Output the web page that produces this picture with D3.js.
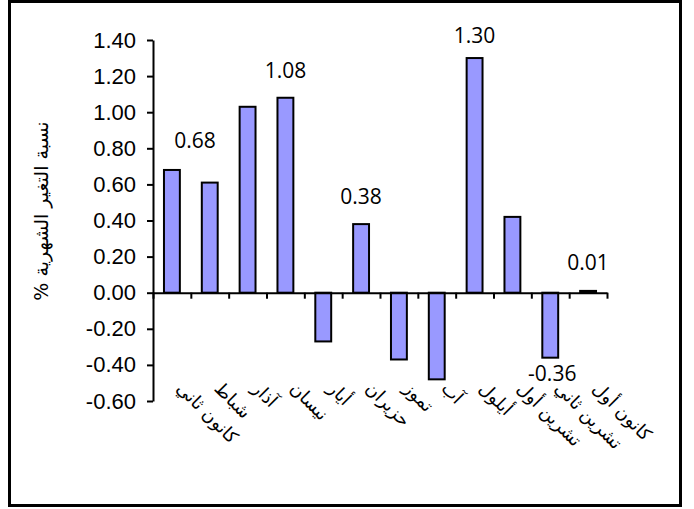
<!DOCTYPE html>
<html>
<head>
<meta charset="utf-8">
<script src="https://cdn.jsdelivr.net/npm/d3@7"></script>
<style>
  body { margin: 0; background: #fff; }
  svg { display: block; }
</style>
</head>
<body>
<div id="chart"></div>
<script>
// monthly change, percent
var months = ["كانون ثاني", "شباط", "آذار", "نيسان", "أيار", "حزيران",
              "تموز", "آب", "أيلول", "تشرين أول", "تشرين ثاني", "كانون أول"];
var changes = [0.68, 0.61, 1.03, 1.08, -0.27, 0.38, -0.37, -0.48, 1.30, 0.42, -0.36, 0.01];
var labelled = [0, 3, 5, 8, 10, 11];   // months that carry a value label
var yTicks = [-0.6, -0.4, -0.2, 0, 0.2, 0.4, 0.6, 0.8, 1.0, 1.2, 1.4];
var yTitle = "نسبة التغير الشهرية %";

var w = 694, h = 509;
// note: "top" is taken by window.top, so plot edges get their own names
var plotLeft = 153, plotRight = 607, plotTop = 40, plotBottom = 401;

// plain hyphen for negatives, like the original
var fmt = function(d) {
  return d.toFixed(2);
};

var svg = d3.select("#chart")
            .append("svg")
            .attr("width", w)
            .attr("height", h);

// chart frame
svg.append("rect")
  .attr("x", 9.5)
  .attr("y", 1.5)
  .attr("width", 671)
  .attr("height", 504)
  .attr("fill", "#fff")
  .attr("stroke", "#000")
  .attr("stroke-width", 3);

var x = d3.scaleBand()
  .domain(months)
  .range([plotLeft, plotRight])
  .paddingInner(0.58)
  .paddingOuter(0.29);

var y = d3.scaleLinear()
  .domain([-0.6, 1.4])
  .range([plotBottom, plotTop]);

// boundaries between categories, for the x ticks
var xEdge = d3.scaleLinear()
  .domain([0, months.length])
  .range([plotLeft, plotRight]);

var yAxis = d3.axisLeft(y)
  .tickValues(yTicks)
  .tickFormat(fmt)
  .tickSize(6)
  .tickSizeOuter(0);

var gy = svg.append("g")
  .attr("transform", "translate(" + plotLeft + ",0)")
  .call(yAxis);
gy.select(".domain").attr("stroke-width", 2);
gy.selectAll(".tick line").attr("stroke-width", 2);
gy.selectAll(".tick text")
  .attr("x", -17)
  .attr("font-family", "Liberation Sans, Arial, sans-serif")
  .attr("font-size", 22)
  .attr("fill", "#000");

// bars
svg.append("g")
  .selectAll("rect")
  .data(changes)
  .enter()
  .append("rect")
  .attr("x", function(d, i) {
    return x(months[i]);
  })
  .attr("y", function(d) {
    return y(Math.max(0, d));
  })
  .attr("width", x.bandwidth())
  .attr("height", function(d) {
    return Math.abs(y(d) - y(0));
  })
  .attr("fill", "#9999ff")
  .attr("stroke", "#000")
  .attr("stroke-width", 2);

var xAxis = d3.axisBottom(xEdge)
  .tickValues(d3.range(months.length + 1))
  .tickFormat("")
  .tickSize(6)
  .tickSizeOuter(0);

var gx = svg.append("g")
  .attr("transform", "translate(0," + y(0) + ")")
  .call(xAxis);
gx.select(".domain").attr("stroke-width", 2);
gx.selectAll(".tick line").attr("stroke-width", 2);

// month names, slanted, under the plot
svg.append("g")
  .selectAll("text")
  .data(months)
  .enter()
  .append("text")
  .attr("transform", function(d) {
    return "translate(" + (x(d) + x.bandwidth() / 2 + 8) + "," + 385 + ") rotate(45)";
  })
  .attr("dy", "0.35em")
  .attr("text-anchor", "start")
  .attr("font-family", "DejaVu Sans, sans-serif")
  .attr("font-size", 18)
  .attr("fill", "#000")
  .text(function(d) {
    return d;
  });

// value labels; the first sits off to the right, the 1.30 one is held inside the plot
var nudge = {0: [23, -22], 8: [0, -15], 10: [2, 23], 11: [0, -21]};
svg.append("g")
  .selectAll("text")
  .data(labelled)
  .enter()
  .append("text")
  .attr("x", function(i) {
    var n = nudge[i] ? nudge[i][0] : 0;
    return x(months[i]) + x.bandwidth() / 2 + n;
  })
  .attr("y", function(i) {
    var n = nudge[i] ? nudge[i][1] : -20;
    var edge = changes[i] < 0 ? y(changes[i]) : y(Math.max(0, changes[i]));
    return edge + n;
  })
  .attr("text-anchor", "middle")
  .attr("font-family", "Open Sans, Noto Sans, sans-serif")
  .attr("font-size", 21)
  .attr("fill", "#000")
  .text(function(i) {
    return fmt(changes[i]);
  });

svg.append("text")
  .attr("transform", "translate(48,211) rotate(-90)")
  .attr("text-anchor", "middle")
  .attr("direction", "rtl")
  .attr("font-family", "DejaVu Sans, sans-serif")
  .attr("font-size", 19)
  .attr("fill", "#000")
  .text(yTitle);
</script>
</body>
</html>
